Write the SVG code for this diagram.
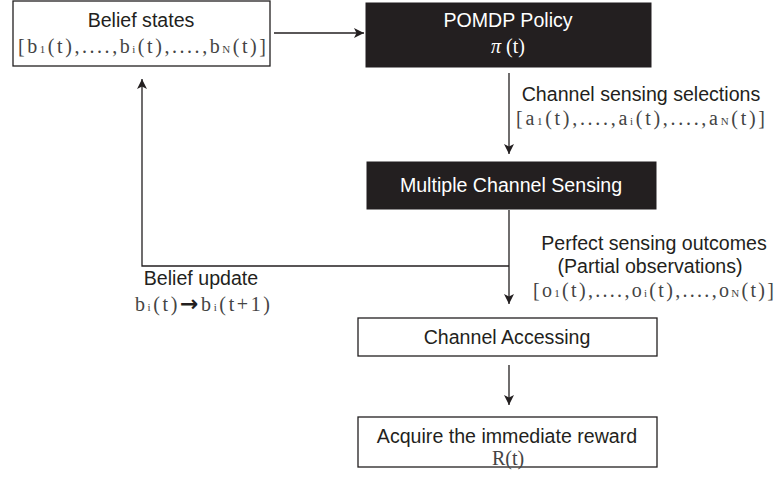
<svg xmlns="http://www.w3.org/2000/svg" width="778" height="479" viewBox="0 0 778 479">
<defs>
<style>
.box{fill:#fff;stroke:#231f20;stroke-width:1.3}
.dark{fill:#231f20;stroke:#231f20;stroke-width:1}
.lbl{font-family:"Liberation Sans",Arial,sans-serif;font-size:19.6px;fill:#231f20}
.wlbl{font-family:"Liberation Sans",Arial,sans-serif;font-size:19.6px;fill:#fff}
.math{font-family:"Liberation Serif","Times New Roman",serif;font-size:20px;fill:#444}
.wmath{font-family:"Liberation Serif","Times New Roman",serif;font-size:20px;fill:#fff}
.sub{font-size:11px}
.line{fill:none;stroke:#231f20;stroke-width:1.3}
</style>
<marker id="ah" viewBox="0 0 10 10" refX="10" refY="5" markerWidth="10" markerHeight="10" markerUnits="userSpaceOnUse" orient="auto">
<path d="M0,0 L10,5 L0,10 L2.5,5 Z" fill="#231f20"/>
</marker>
</defs>
<g id="connectors">
<line class="line" x1="274" y1="33" x2="364" y2="33" marker-end="url(#ah)"/>
<line class="line" x1="509" y1="73" x2="509" y2="154" marker-end="url(#ah)"/>
<line class="line" x1="509" y1="210" x2="509" y2="304" marker-end="url(#ah)"/>
<polyline class="line" points="509,266 142,266 142,79" marker-end="url(#ah)"/>
<line class="line" x1="509" y1="365" x2="509" y2="405" marker-end="url(#ah)"/>
</g>
<g id="belief-states">
<rect class="box" x="13" y="1" width="257" height="65"/>
<text class="lbl" x="141" y="27" text-anchor="middle">Belief states</text>
<text class="math" x="18" y="53" textLength="248" lengthAdjust="spacing">[b<tspan class="sub">1</tspan>(t),....,b<tspan class="sub">i</tspan>(t),....,b<tspan class="sub">N</tspan>(t)]</text>
</g>
<g id="pomdp-policy">
<rect class="dark" x="366" y="3" width="285" height="64"/>
<text class="wlbl" x="508" y="27" text-anchor="middle">POMDP Policy</text>
<text class="wmath" x="508" y="53" text-anchor="middle"><tspan font-style="italic">π</tspan> (t)</text>
</g>
<g id="selections-label">
<text class="lbl" x="641" y="101" text-anchor="middle">Channel sensing selections</text>
<text class="math" x="516" y="125" textLength="249" lengthAdjust="spacing">[a<tspan class="sub">1</tspan>(t),....,a<tspan class="sub">i</tspan>(t),....,a<tspan class="sub">N</tspan>(t)]</text>
</g>
<g id="multiple-channel-sensing">
<rect class="dark" x="367" y="162" width="289" height="47"/>
<text class="wlbl" x="511" y="192" text-anchor="middle">Multiple Channel Sensing</text>
</g>
<g id="outcomes-label">
<text class="lbl" x="654" y="250" text-anchor="middle">Perfect sensing outcomes</text>
<text class="lbl" x="650" y="273" text-anchor="middle">(Partial observations)</text>
<text class="math" x="533" y="297" textLength="241" lengthAdjust="spacing">[o<tspan class="sub">1</tspan>(t),....,o<tspan class="sub">i</tspan>(t),....,o<tspan class="sub">N</tspan>(t)]</text>
</g>
<g id="belief-update-label">
<text class="lbl" x="201" y="285" text-anchor="middle">Belief update</text>
<text class="math" x="135" y="311" textLength="135" lengthAdjust="spacing">b<tspan class="sub">i</tspan>(t)<tspan font-family="'DejaVu Sans',sans-serif" font-size="22" font-weight="bold" fill="#231f20">→</tspan>b<tspan class="sub">i</tspan>(t+1)</text>
</g>
<g id="channel-accessing">
<rect class="box" x="358" y="318" width="299" height="38"/>
<text class="lbl" x="507" y="344" text-anchor="middle">Channel Accessing</text>
</g>
<g id="reward">
<rect class="box" x="358" y="417" width="299" height="50"/>
<text class="lbl" x="507" y="443" text-anchor="middle">Acquire the immediate reward</text>
<text class="math" x="508" y="465" text-anchor="middle">R(t)</text>
</g>
</svg>
